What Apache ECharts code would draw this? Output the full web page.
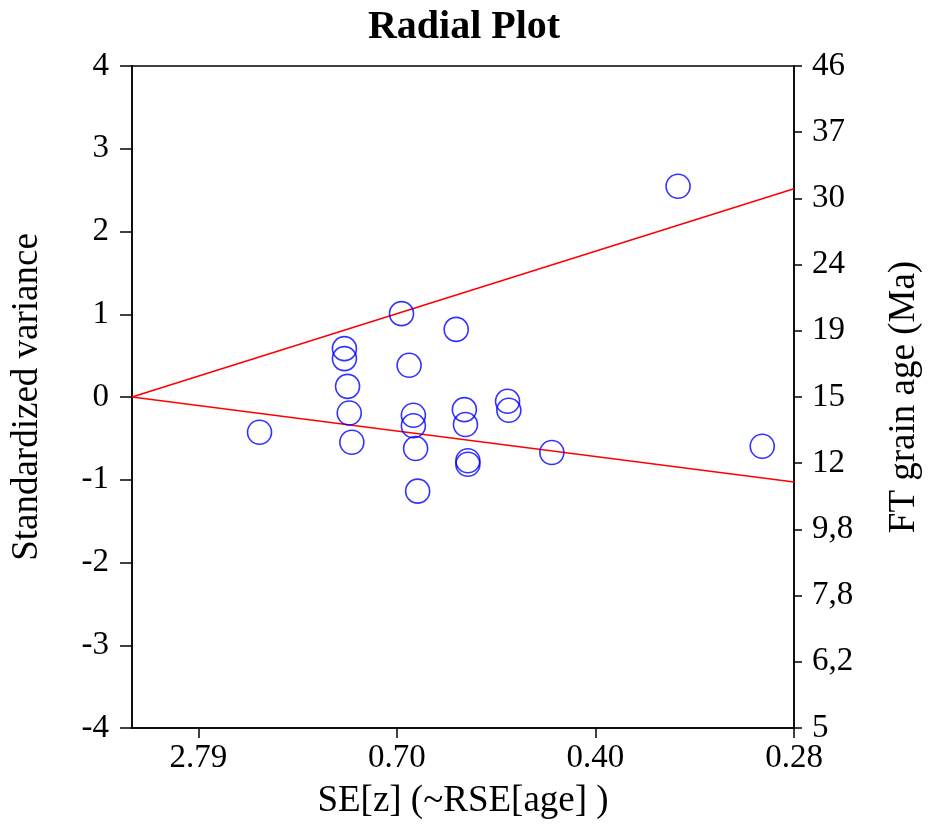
<!DOCTYPE html>
<html>
<head>
<meta charset="utf-8">
<script src="https://cdn.jsdelivr.net/npm/echarts@6/dist/echarts.min.js"></script>
<style>
  html, body { margin: 0; padding: 0; background: #fff; }
  #chart { width: 928px; height: 827px; }
</style>
</head>
<body>
<div id="chart"></div>
<script>
// precision (1/SE) and standardized estimate of each grain
var precision = [0.688, 1.146, 1.146, 1.163, 1.172, 1.186, 1.454, 1.495, 1.518, 1.518, 1.530,
                 1.541, 1.749, 1.793, 1.799, 1.812, 1.812, 2.026, 2.033, 2.265, 2.946, 3.400];
var stdEstimate = [-0.426, 0.584, 0.464, 0.129, -0.193, -0.547, 1.007, 0.383, -0.221, -0.348, -0.623,
                   -1.138, 0.817, -0.152, -0.333, -0.770, -0.813, -0.052, -0.161, -0.671, 2.547, -0.595];

// bottom axis: SE labels
var seTicks = ['2.79', '0.70', '0.40', '0.28'];
var precisionMax = 1 / 0.28;

// right axis: age labels
var ageTicks = ['5', '6,2', '7,8', '9,8', '12', '15', '19', '24', '30', '37', '46'];

// red lines from origin, y at the right edge
var lineEndY = [2.517, -1.027];

var font = '"Liberation Serif", "Times New Roman", serif';

var seTickValues = seTicks.map(function (s) { return 1 / parseFloat(s); });

var pts = precision.map(function (x, i) { return [x, stdEstimate[i]]; });

var myChart = echarts.init(document.getElementById('chart'));

var option = {
    backgroundColor: '#fff',
    animation: false,
    title: {
        text: 'Radial Plot',
        left: 'center',
        top: 3,
        textStyle: { fontFamily: font, fontWeight: 'bold', fontSize: 40, color: '#000' }
    },
    grid: {
        left: 132,
        right: 134,
        top: 66,
        bottom: 99,
        containLabel: false,
        outerBoundsMode: 'none',
        show: true,
        borderColor: '#000',
        borderWidth: 1.5,
        backgroundColor: 'transparent'
    },
    xAxis: {
        type: 'value',
        min: 0,
        max: precisionMax,
        name: 'SE[z] (~RSE[age] )',
        nameLocation: 'middle',
        nameGap: 55,
        nameTextStyle: { fontFamily: font, fontSize: 37, color: '#000' },
        splitLine: { show: false },
        axisLine: { onZero: false, lineStyle: { color: '#000', width: 1.5 } },
        axisTick: {
            customValues: seTickValues,
            length: 10,
            lineStyle: { color: '#000', width: 1.5 }
        },
        axisLabel: {
            customValues: seTickValues,
            margin: 14,
            fontFamily: font,
            fontSize: 33,
            color: '#000',
            formatter: function (v) {
                var best = 0;
                for (var i = 1; i < seTickValues.length; i++) {
                    if (Math.abs(seTickValues[i] - v) < Math.abs(seTickValues[best] - v)) best = i;
                }
                return seTicks[best];
            }
        }
    },
    yAxis: [
        {
            type: 'value',
            min: -4,
            max: 4,
            interval: 1,
            position: 'left',
            name: 'Standardized variance',
            nameLocation: 'middle',
            nameGap: 86,
            nameRotate: 90,
            nameTextStyle: { fontFamily: font, fontSize: 37, color: '#000' },
            splitLine: { show: false },
            axisLine: { show: true, onZero: false, lineStyle: { color: '#000', width: 1.5 } },
            axisTick: { length: 12, lineStyle: { color: '#000', width: 1.5 } },
            axisLabel: { margin: 23, fontFamily: font, fontSize: 33, color: '#000' }
        },
        {
            type: 'value',
            min: 0,
            max: 10,
            interval: 1,
            position: 'right',
            name: 'FT grain age (Ma)',
            nameLocation: 'middle',
            nameGap: 92,
            nameRotate: 90,
            nameTextStyle: { fontFamily: font, fontSize: 37, color: '#000' },
            splitLine: { show: false },
            axisLine: { show: true, onZero: false, lineStyle: { color: '#000', width: 1.5 } },
            axisTick: { length: 8, lineStyle: { color: '#000', width: 1.5 } },
            axisLabel: {
                margin: 18,
                fontFamily: font,
                fontSize: 33,
                color: '#000',
                formatter: function (v) { return ageTicks[Math.round(v)]; }
            }
        }
    ],
    series: [
        {
            name: 'upper',
            type: 'line',
            data: [[0, 0], [precisionMax, lineEndY[0]]],
            symbol: 'none',
            lineStyle: { color: '#ff0000', width: 1.6 },
            z: 1
        },
        {
            name: 'lower',
            type: 'line',
            data: [[0, 0], [precisionMax, lineEndY[1]]],
            symbol: 'none',
            lineStyle: { color: '#ff0000', width: 1.6 },
            z: 1
        },
        {
            name: 'grains',
            type: 'scatter',
            data: pts,
            symbol: 'circle',
            symbolSize: 24,
            itemStyle: { color: 'transparent', borderColor: '#0000ff', borderWidth: 1.6 },
            z: 2
        }
    ]
};
myChart.setOption(option);
</script>
</body>
</html>
